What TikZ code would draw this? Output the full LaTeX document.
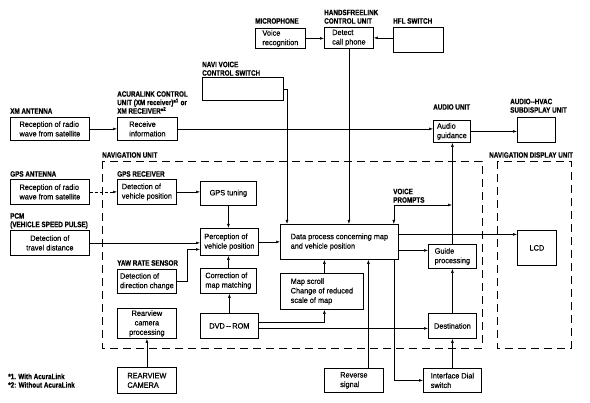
\documentclass[tikz,border=0pt]{standalone}
\usepackage{fontspec}
\newfontfamily\boxfont[FakeStretch=0.94,FakeBold=0.4]{Liberation Sans}
\newfontfamily\lblfont[FakeStretch=0.81,FakeBold=0.5]{Liberation Sans}
\usetikzlibrary{arrows.meta}

\begin{document}
\begin{tikzpicture}[x=1pt,y=-1pt,line width=0.5pt,
	>={Latex[length=4pt,width=2.8pt]},
	box/.style={draw,line width=0.8pt,anchor=north west,inner sep=0pt,align=left,font=\boxfont\fontsize{7.8}{9.5}\selectfont},
	cbox/.style={box,align=center},
	lbl/.style={anchor=south west,inner sep=0pt,align=left,font=\lblfont\bfseries\fontsize{7.8}{8.5}\selectfont},
	unit/.style={dash pattern=on 8pt off 5pt,line width=0.7pt}]
	\useasboundingbox (0,0) rectangle (590,403);
	\draw[unit] (102,161) rectangle (482,348);
	\draw[unit] (497,161) rectangle (571,348);
	\node[lbl] (navul) at (102,158) {NAVIGATION UNIT};
	\node[lbl] (navdl) at (489,158) {NAVIGATION DISPLAY UNIT};
	\node[lbl] (micl) at (255,24) {MICROPHONE};
	\node[lbl] (hfcul) at (324,24) {HANDSFREELINK\\CONTROL UNIT};
	\node[lbl] (hfll) at (393,24) {HFL SWITCH};
	\node[lbl] (navil) at (202,76) {NAVI VOICE\\CONTROL SWITCH};
	\node[lbl] (acural) at (117,114) {ACURALINK CONTROL\\UNIT (XM receiver)*\textsuperscript{1} or\\XM RECEIVER*\textsuperscript{2}};
	\node[lbl] (xmantl) at (10,114) {XM ANTENNA};
	\node[lbl] (audiol) at (433,110) {AUDIO UNIT};
	\node[lbl] (subdl) at (510,113) {AUDIO--HVAC\\SUBDISPLAY UNIT};
	\node[lbl] (gpsal) at (10,177) {GPS ANTENNA};
	\node[lbl] (gpsrl) at (117,177) {GPS RECEIVER};
	\node[lbl] (pcml) at (10,229) {PCM\\(VEHICLE SPEED PULSE)};
	\node[lbl] (yawl) at (117,266) {YAW RATE SENSOR};
	\node[lbl] (vpl) at (393,203) {VOICE\\PROMPTS};
	\node[lbl] (notel) at (8,388) {*1. With AcuraLink\\*2: Without AcuraLink};

	\node[box,minimum width=50,minimum height=20] (voice) at (255,28) {Voice\\recognition};
	\node[box,minimum width=49,minimum height=21] (detect) at (324,27) {Detect\\call phone};
	\node[box,minimum width=50,minimum height=25] (hfl) at (393,27) {};
	\node[box,minimum width=81,minimum height=23] (navi) at (202,77) {};
	\node[box,minimum width=79,minimum height=23] (xmrecv) at (10,117) {Reception of radio\\wave from satellite};
	\node[box,minimum width=60,minimum height=23] (recv) at (117,117) {Receive\\information};
	\node[box,minimum width=37,minimum height=22] (audio) at (433,120) {Audio\\guidance};
	\node[box,minimum width=38,minimum height=25] (subdisp) at (517,117) {};
	\node[box,minimum width=79,minimum height=25] (gpsant) at (10,179) {Reception of radio\\wave from satellite};
	\node[box,minimum width=59,minimum height=25] (gpsrecv) at (117,179) {Detection of\\vehicle position};
	\node[cbox,minimum width=56,minimum height=24] (tuning) at (200,181) {GPS tuning};
	\node[cbox,minimum width=79,minimum height=25] (travel) at (10,230) {Detection of\\travel distance};
	\node[box,minimum width=58,minimum height=27] (percep) at (200,228) {Perception of\\vehicle position};
	\node[box,minimum width=59,minimum height=24] (yaw) at (117,269) {Detection of\\direction change};
	\node[box,minimum width=56,minimum height=25] (corr) at (200,268) {Correction of\\map matching};
	\node[cbox,minimum width=59,minimum height=30] (rearproc) at (117,308) {Rearview\\camera\\processing};
	\node[cbox,minimum width=58,minimum height=25] (dvd) at (200,313) {DVD\,--\,ROM};
	\node[box,minimum width=118,minimum height=35] (data) at (280,224) {Data process concerning map\\and vehicle position};
	\node[box,minimum width=83,minimum height=36] (mapscroll) at (280,273) {Map scroll\\Change of reduced\\scale of map};
	\node[box,minimum width=48,minimum height=24] (guide) at (428,244) {Guide\\processing};
	\node[cbox,minimum width=48,minimum height=25] (dest) at (428,313) {Destination};
	\node[cbox,minimum width=39,minimum height=35] (lcd) at (517,230) {LCD};
	\node[box,minimum width=59,minimum height=26] (rearcam) at (117,367) {REARVIEW\\CAMERA};
	\node[box,minimum width=59,minimum height=24] (reverse) at (324,368) {Reverse\\signal};
	\node[box,minimum width=58,minimum height=24] (dial) at (423,368) {Interface Dial\\switch};

	\draw[->] (voice.east) -- (voice.east -| detect.west);
	\draw[->] ([yshift=2pt]hfl.west) -- ([yshift=2pt]hfl.west -| detect.east);
	\draw[->] (detect.south) -- (detect.south |- data.north);
	\draw[->] (navi.east) -| ([xshift=7pt]data.north west);
	\draw[->] (xmrecv) -- (recv);
	\draw[->] (recv.east) -- (recv.east -| audio.west);
	\draw[->] (audio.east) -- (audio.east -| subdisp.west);
	\draw[->,dash pattern=on 3pt off 2pt] (gpsant) -- (gpsrecv);
	\draw[->] (gpsrecv.east) -- (gpsrecv.east -| tuning.west);
	\draw[->] (tuning.south) -- (tuning.south |- percep.north);
	\draw[->] (travel.east) -- (travel.east -| percep.west);
	\draw[->] (yaw.east) -- ++(10,0) |- ([yshift=-7.5pt]percep.west);
	\draw[->] (corr.north) -- (corr.north |- percep.south);
	\draw[->] (dvd.north) -- (dvd.north |- corr.south);
	\draw[->] ([yshift=3.5pt]dvd.east) -| ([xshift=2.5pt]mapscroll.south);
	\draw[->] ([yshift=-2.5pt]dvd.east) -- ([yshift=-2.5pt]dvd.east -| dest.west);
	\draw[->] (percep.east) -- (percep.east -| data.west);
	\draw[->] ([xshift=2.5pt]mapscroll.north) -- ([xshift=2.5pt]mapscroll.north |- data.south);
	\draw[->] ([xshift=14.5pt]reverse.north) -- ([xshift=14.5pt]reverse.north |- data.south);
	\draw[->] ([xshift=-5pt]data.south east) |- (dial.west);
	\draw[->] ([yshift=7.5pt]data.east) -- ([yshift=7.5pt]data.east -| lcd.west);
	\draw[->] ([yshift=-8.5pt]data.east) -- ([yshift=-8.5pt]data.east -| guide.west);
	\draw[->] (dest.north) -- (dest.north |- guide.south);
	\draw[->] (dial.north) -- (dial.north |- dest.south);
	\draw[->] (guide.north) -- (guide.north |- audio.south);
	\coordinate (vpjoin) at (452,205);
	\draw[<->] ([xshift=-5pt]data.north east) |- (vpjoin);
	\draw[->] (rearcam.north) -- (rearcam.north |- rearproc.south);
\end{tikzpicture}
\end{document}
